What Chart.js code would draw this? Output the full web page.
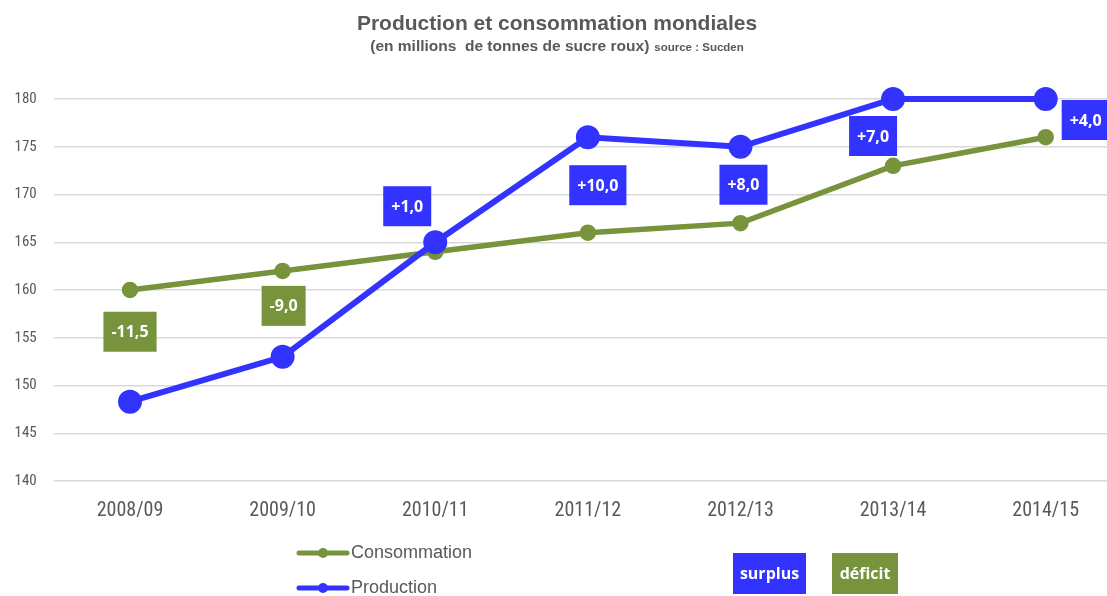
<!DOCTYPE html>
<html>
<head>
<meta charset="utf-8">
<script src="https://cdn.jsdelivr.net/npm/chart.js@4"></script>
<style>
  html, body { margin: 0; padding: 0; background: #fff; overflow: hidden; }
  #wrap { width: 1107px; height: 596px; }
</style>
</head>
<body>
<div id="wrap"><canvas id="chart-canvas"></canvas></div>
<script>
const categories = ['2008/09', '2009/10', '2010/11', '2011/12', '2012/13', '2013/14', '2014/15'];
const consommation = [160, 162, 164, 166, 167, 173, 176];
const production = [148.3, 153, 165, 176, 175, 180, 180];
const balanceLabels = ['-11,5', '-9,0', '+1,0', '+10,0', '+8,0', '+7,0', '+4,0'];
const yMin = 140;
const yMax = 180;
const yStep = 5;

// where each balance box sits, relative to the production point (px)
const boxOffsets = [[0, -70], [1, -51], [-28, -36], [10, 48], [3, 38], [-20, 37], [40, 21]];

const BLUE = '#3333ff';
const GREEN = '#77933c';
const GREY = '#595959';

// the plot area of the original runs past the right edge of the picture
const PLOT_RIGHT = 1122;

const chartCanvas = document.getElementById('chart-canvas');

const widenPlugin = {
    id: 'widen',
    afterLayout(chart) {
        const xs = chart.scales.x;
        xs.right = PLOT_RIGHT;
        xs.width = xs.right - xs.left;
        xs.configure();
        chart.chartArea.right = PLOT_RIGHT;
        chart.chartArea.width = PLOT_RIGHT - chart.chartArea.left;
    }
};

const decorPlugin = {
    id: 'decor',
    afterDatasetsDraw(chart) {
        const ctx = chart.ctx;
        const meta = chart.getDatasetMeta(1);
        ctx.save();
        ctx.font = 'bold 16px "Open Sans"';
        ctx.textAlign = 'center';
        ctx.textBaseline = 'middle';
        balanceLabels.forEach((txt, i) => {
            const pt = meta.data[i];
            const cx = pt.x + boxOffsets[i][0];
            const cy = pt.y + boxOffsets[i][1];
            const w = ctx.measureText(txt).width + 16;
            const h = 40;
            ctx.fillStyle = txt.startsWith('-') ? GREEN : BLUE;
            ctx.fillRect(cx - w / 2, cy - h / 2, w, h);
            ctx.fillStyle = '#fff';
            ctx.fillText(txt, cx, cy + 1);
        });
        ctx.restore();
    },
    afterDraw(chart) {
        const ctx = chart.ctx;
        ctx.save();
        ctx.fillStyle = GREY;
        ctx.textBaseline = 'alphabetic';

        // title
        ctx.textAlign = 'center';
        ctx.font = 'bold 21px "Liberation Sans"';
        ctx.fillText('Production et consommation mondiales', 557, 30);

        // subtitle, two sizes
        ctx.textAlign = 'left';
        const sub1 = '(en millions  de tonnes de sucre roux)';
        const sub2 = 'source : Sucden';
        ctx.font = 'bold 15.5px "Liberation Sans"';
        const w1 = ctx.measureText(sub1).width;
        ctx.font = 'bold 11.5px "Liberation Sans"';
        const w2 = ctx.measureText(sub2).width;
        const sx = 557 - (w1 + 5 + w2) / 2;
        ctx.font = 'bold 15.5px "Liberation Sans"';
        ctx.fillText(sub1, sx, 51);
        ctx.font = 'bold 11.5px "Liberation Sans"';
        ctx.fillText(sub2, sx + w1 + 5, 51);

        // legend
        const items = [chart.data.datasets[0], chart.data.datasets[1]];
        const rows = [553, 588];
        items.forEach((ds, i) => {
            const y = rows[i];
            ctx.strokeStyle = ds.borderColor;
            ctx.lineWidth = 5;
            ctx.lineCap = 'round';
            ctx.beginPath();
            ctx.moveTo(299, y);
            ctx.lineTo(347, y);
            ctx.stroke();
            ctx.fillStyle = ds.borderColor;
            ctx.beginPath();
            ctx.arc(323, y, 5, 0, Math.PI * 2);
            ctx.fill();
            ctx.fillStyle = GREY;
            ctx.font = '18px "Liberation Sans"';
            ctx.textBaseline = 'middle';
            ctx.fillText(ds.label, 351, y);
        });

        // surplus / deficit key
        ctx.font = 'bold 16px "Open Sans"';
        ctx.textAlign = 'center';
        ctx.fillStyle = BLUE;
        ctx.fillRect(733, 553, 73, 41);
        ctx.fillStyle = GREEN;
        ctx.fillRect(832, 553, 66, 41);
        ctx.fillStyle = '#fff';
        ctx.fillText('surplus', 769.5, 574);
        ctx.fillText('déficit', 865, 574);
        ctx.restore();
    }
};

new Chart(chartCanvas, {
    type: 'line',
    data: {
        labels: categories,
        datasets: [{
            label: 'Consommation',
            data: consommation,
            borderColor: GREEN,
            backgroundColor: GREEN,
            borderWidth: 5.5,
            pointRadius: 5.5,
            pointHoverRadius: 5.5,
            order: 1
        }, {
            label: 'Production',
            data: production,
            borderColor: BLUE,
            backgroundColor: BLUE,
            borderWidth: 6,
            pointRadius: 9,
            pointHoverRadius: 9,
            order: 0
        }]
    },
    options: {
        responsive: true,
        maintainAspectRatio: false,
        animation: false,
        clip: false,
        layout: { padding: { top: 99, right: 0, left: 0, bottom: 0 } },
        plugins: {
            legend: { display: false },
            tooltip: { enabled: false }
        },
        scales: {
            x: {
                offset: true,
                grid: { display: false },
                border: { display: false },
                ticks: {
                    color: GREY,
                    padding: 10,
                    font: { family: '"Liberation Sans Narrow", "Roboto Condensed", "Liberation Sans"', size: 20 }
                },
                afterFit(scale) { scale.height = 115; }
            },
            y: {
                min: yMin,
                max: yMax,
                grid: { color: '#d9d9d9', lineWidth: 1.5, drawTicks: false },
                border: { display: false },
                ticks: {
                    stepSize: yStep,
                    color: GREY,
                    padding: 17,
                    font: { family: '"Liberation Sans Narrow", "Roboto Condensed", "Liberation Sans"', size: 15 }
                },
                afterFit(scale) { scale.width = 53.7; }
            }
        }
    },
    plugins: [widenPlugin, decorPlugin]
});
</script>
</body>
</html>
